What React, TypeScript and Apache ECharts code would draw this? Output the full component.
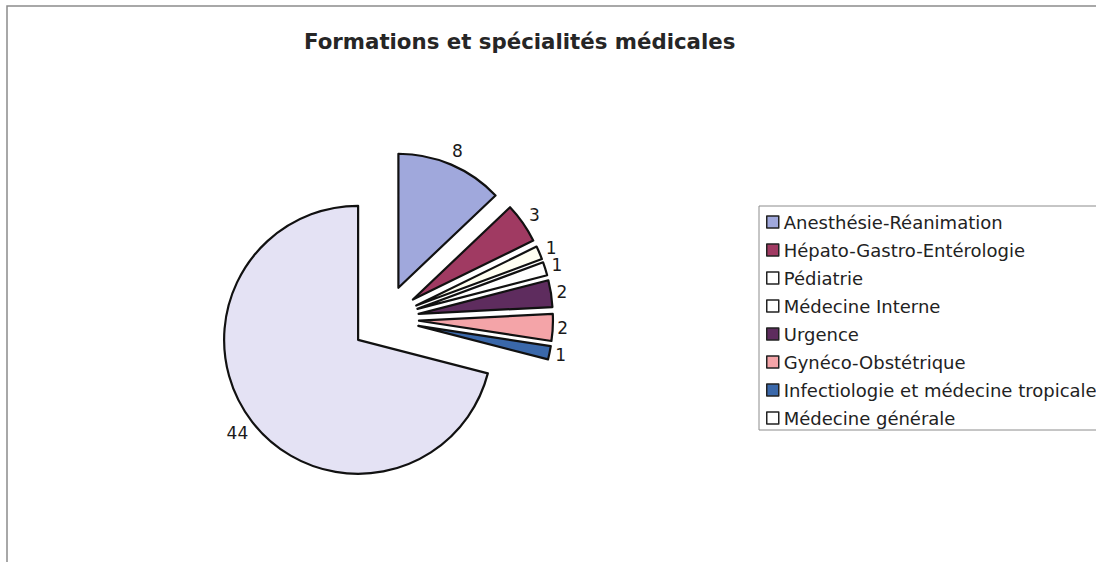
import React, { useEffect, useRef } from "react";
import * as echarts from "echarts";

const titleText = "Formations et spécialités médicales";
const categories = [
  "Anesthésie-Réanimation",
  "Hépato-Gastro-Entérologie",
  "Pédiatrie",
  "Médecine Interne",
  "Urgence",
  "Gynéco-Obstétrique",
  "Infectiologie et médecine tropicale",
  "Médecine générale",
];
const values = [8, 3, 1, 1, 2, 2, 1, 44];
const sliceColors = ["#A0A8DC", "#A03A62", "#FFFFF2", "#FFFFFF", "#5E2C5E", "#F4A4A8", "#3A68AA", "#E4E2F4"];
const legendColors = ["#A0A8DC", "#A03A62", "#FFFFFF", "#FFFFFF", "#5E2C5E", "#F4A4A8", "#3A68AA", "#FFFFFF"];

const CX = 385;
const CY = 319;
const R = 134;
const OFFSET = 34;
const LABEL_GAP = 4;
const FONT = "'DejaVu Sans', Verdana, sans-serif";

export default function App() {
  const ref = useRef<HTMLDivElement>(null);
  useEffect(() => {
    if (!ref.current) return;
    const chart = echarts.init(ref.current, null, { renderer: "svg" });
    const total = values.reduce((a, b) => a + b, 0);
    const midAngle = (i: number) => {
      let before = 0;
      for (let k = 0; k < i; k++) before += values[k];
      return ((before + values[i] / 2) / total) * Math.PI * 2;
    };
    // distance from slice edge to label centre, so that the label box just clears the arc
    const labelReach = (i: number) => {
      const a = midAngle(i);
      const w = String(values[i]).length * 10.8;
      const h = 20;
      return LABEL_GAP + (w / 2) * Math.abs(Math.sin(a)) + (h / 2) * Math.abs(Math.cos(a));
    };
    chart.setOption({
      animation: false,
      backgroundColor: "#ffffff",
      title: {
        text: titleText,
        left: 299,
        top: 26,
        textStyle: { fontFamily: FONT, fontSize: 21.3, fontWeight: "bold", color: "#262626" },
      },
      graphic: [
        {
          type: "rect",
          z: -10,
          shape: { x: 7, y: 6, width: 1300, height: 800 },
          style: { fill: "none", stroke: "#8c8c8c", lineWidth: 1.5 },
          silent: true,
        },
      ],
      legend: {
        orient: "vertical",
        left: 759,
        top: 206,
        padding: [6, 8, 2, 7],
        itemGap: 8,
        itemWidth: 12,
        itemHeight: 12,
        icon: "rect",
        backgroundColor: "#ffffff",
        borderColor: "#8c8c8c",
        borderWidth: 1,
        borderRadius: 0,
        selectedMode: false,
        textStyle: { fontFamily: FONT, fontSize: 18, color: "#222", lineHeight: 20 },
        itemStyle: { borderColor: "#222", borderWidth: 1.5 },
        data: categories.map((c, i) => ({
          name: c,
          itemStyle: { color: legendColors[i], borderColor: "#222", borderWidth: 1.5 },
        })),
      },
      series: [
        {
          type: "pie",
          center: [CX, CY],
          radius: [0, R],
          startAngle: 90,
          clockwise: true,
          selectedMode: "multiple",
          selectedOffset: OFFSET,
          avoidLabelOverlap: false,
          emphasis: { disabled: true },
          itemStyle: { borderColor: "#111", borderWidth: 2.2 },
          label: {
            show: true,
            position: "outside",
            formatter: "{c}",
            fontFamily: FONT,
            fontSize: 17,
            color: "#1a1a1a",
            distanceToLabelLine: 0,
          },
          labelLine: { show: false, length: 0, length2: 0 },
          labelLayout: () => ({ align: "center", verticalAlign: "middle" }),
          data: categories.map((c, i) => ({
            name: c,
            value: values[i],
            selected: true,
            itemStyle: { color: sliceColors[i] },
            labelLine: { show: false, length: labelReach(i), length2: 0 },
          })),
        },
      ],
    });
    return () => chart.dispose();
  }, []);
  return (
    <div
      ref={ref}
      style={{ position: "fixed", left: 0, top: 0, width: 1096, height: 562 }}
    />
  );
}
